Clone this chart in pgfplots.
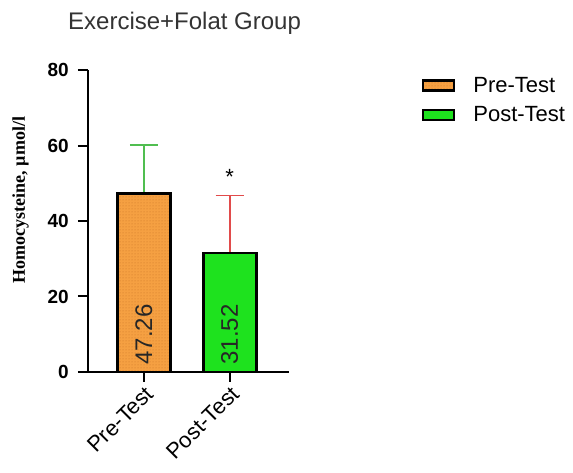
\documentclass[border=0pt]{standalone}
\usepackage{fontspec}
\setmainfont{Liberation Sans}
\newfontfamily\timesf{Liberation Serif}
\usepackage{pgfplots}
\pgfplotsset{compat=1.18}
\usetikzlibrary{patterns}
\definecolor{preorange}{RGB}{245,160,66}
\definecolor{postgreen}{RGB}{30,226,30}
\definecolor{preerr}{RGB}{80,190,80}
\definecolor{posterr}{RGB}{225,75,75}
\definecolor{dotc}{RGB}{200,115,40}
\begin{document}
\begin{tikzpicture}
\useasboundingbox (0,0) rectangle (573pt,473pt);
\node[anchor=base west, inner sep=0pt, font=\fontsize{24}{28}\selectfont, text=black!80] at (68pt,443pt) {Exercise+Folat Group};
\begin{axis}[
  at={(88pt,101pt)}, anchor=south west,
  scale only axis, width=201pt, height=302pt,
  xmin=-0.65, xmax=1.69, ymin=0, ymax=80,
  axis x line*=bottom, axis y line*=left,
  axis line style={-, line width=2pt, black},
  ytick={0,20,40,60,80},
  xtick={0,1}, xticklabels={Pre-Test,Post-Test},
  tick style={line width=2pt, black},
  tick align=outside, major tick length=10pt,
  /pgf/number format/assume math mode=true,
  yticklabel style={font=\bfseries\fontsize{19}{20}\selectfont, inner sep=0pt, xshift=-9pt},
  xticklabel style={font=\fontsize{22}{24}\selectfont, rotate=45, anchor=north east, inner sep=2pt},
  ylabel={Homocysteine, µmol/l},
  ylabel style={at={(rel axis cs:-0.335,0.57)}, anchor=center, font=\timesf\bfseries\fontsize{18}{20}\selectfont},
  legend image code/.code={\draw[#1] (0pt,-5pt) rectangle (31pt,5pt);},
  legend style={draw=none, fill=none, at={(rel axis cs:1.645,0.99)}, anchor=north west,
    font=\fontsize{22}{24}\selectfont, row sep=9pt, cells={anchor=west},
    /tikz/every odd column/.append style={column sep=16pt}},
  clip=false,
]
\addlegendimage{fill=preorange, draw=black, line width=2.5pt, postaction={pattern=dots, pattern color=dotc}}
\addlegendentry{Pre-Test}
\addlegendimage{fill=postgreen, draw=black, line width=2.5pt}
\addlegendentry{Post-Test}
% error bars: stems and caps (mean to mean+SD)
\addplot[draw=preerr, line width=1.6pt, forget plot] coordinates {(0,47.26) (0,60.1)};
\addplot[draw=preerr, line width=1.6pt, forget plot] coordinates {(-0.163,60.1) (0.163,60.1)};
\addplot[draw=posterr, line width=1.6pt, forget plot] coordinates {(1,31.52) (1,46.72)};
\addplot[draw=posterr, line width=1.6pt, forget plot] coordinates {(0.837,46.72) (1.163,46.72)};
% bars
\addplot[ybar, bar width=53pt, bar shift=0pt, fill=preorange, draw=black, line width=2.8pt,
  postaction={pattern=dots, pattern color=dotc}, forget plot]
  coordinates {(0,47.26)};
\addplot[ybar, bar width=53pt, bar shift=0pt, fill=postgreen, draw=black, line width=2.8pt, forget plot]
  coordinates {(1,31.52)};
\node[rotate=90, anchor=west, inner sep=0pt, font=\fontsize{24}{26}\selectfont, text=black!85] at (axis cs:0,1.9) {47.26};
\node[rotate=90, anchor=west, inner sep=0pt, font=\fontsize{24}{26}\selectfont, text=black!85] at (axis cs:1,1.9) {31.52};
\node[anchor=north, inner sep=0pt, font=\fontsize{22}{24}\selectfont] at (axis cs:1,53.8) {*};
\end{axis}
\end{tikzpicture}
\end{document}
